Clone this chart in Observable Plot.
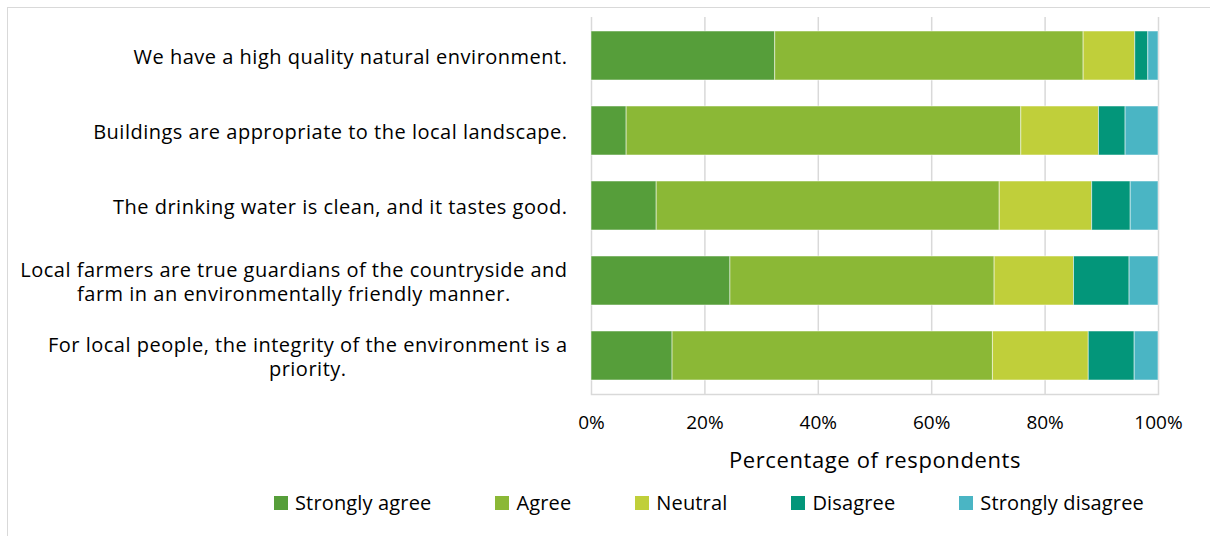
<!DOCTYPE html>
<html>
<head>
<meta charset="utf-8">
<script src="https://cdn.jsdelivr.net/npm/d3@7"></script>
<script src="https://cdn.jsdelivr.net/npm/@observablehq/plot@0.6"></script>
<style>
  html, body { margin: 0; padding: 0; background: #fff; }
  #wrap { position: relative; width: 1210px; height: 536px; overflow: hidden; font-family: "Open Sans", sans-serif; }
  #border { position: absolute; left: 7px; top: 7px; width: 1230px; height: 560px; border: 1.5px solid #d9d9d9; box-sizing: border-box; }
  #chart { position: absolute; left: 0; top: 0; }
  #legend { position: absolute; left: 274px; top: 489px; display: flex; align-items: center; font-size: 20px; letter-spacing: 0.15px; color: #000; }
  .item { display: flex; align-items: center; margin-right: 64px; }
  .item:last-child { margin-right: 0; }
  .sw { width: 14px; height: 14px; margin-right: 7px; }
</style>
</head>
<body>
<div id="wrap">
  <div id="border"></div>
  <div id="chart"></div>
  <div id="legend"></div>
</div>
<script>
const statements = [
  "We have a high quality natural environment.",
  "Buildings are appropriate to the local landscape.",
  "The drinking water is clean, and it tastes good.",
  "Local farmers are true guardians of the countryside and\nfarm in an environmentally friendly manner.",
  "For local people, the integrity of the environment is a\npriority."
];
const categories = ["Strongly agree", "Agree", "Neutral", "Disagree", "Strongly disagree"];
const colors = ["#569E3A", "#8BB836", "#C0CF3A", "#03967A", "#4AB5C4"];
const stronglyAgree    = [32.4,  6.2, 11.5, 24.5, 14.3];
const agree            = [54.4, 69.6, 60.5, 46.6, 56.5];
const neutral          = [ 9.1, 13.7, 16.3, 14.0, 16.9];
const disagree         = [ 2.3,  4.7,  6.8,  9.8,  8.1];
const stronglyDisagree = [ 1.8,  5.8,  4.9,  5.1,  4.2];
const xTicks = [0, 20, 40, 60, 80, 100];
const xLabel = "Percentage of respondents";

const series = [stronglyAgree, agree, neutral, disagree, stronglyDisagree];
const data = [];
statements.forEach((s, i) => {
  categories.forEach((c, j) => data.push({statement: s, category: c, value: series[j][i]}));
});

const FONT = "'Open Sans', sans-serif";
const LABEL_SIZE = 20;
const LABEL_SPACING = 0.5;
const ctx = document.createElement("canvas").getContext("2d");
ctx.font = `${LABEL_SIZE}px 'Open Sans'`;
const widthOf = s => Math.max(...s.split("\n").map(l => ctx.measureText(l).width + LABEL_SPACING * l.length));

const labelMarks = statements.map(s => Plot.text([s], {
  y: d => d,
  text: d => d,
  frameAnchor: "left",
  textAnchor: "middle",
  lineAnchor: "middle",
  lineHeight: 1.22,
  dx: -(24 + widthOf(s) / 2),
  fontSize: LABEL_SIZE,
  fill: "#000"
}));

const chart = Plot.plot({
  width: 1210,
  height: 474,
  marginLeft: 591,
  marginRight: 52,
  marginTop: 17,
  marginBottom: 80,
  style: {fontFamily: FONT, background: "transparent"},
  x: {domain: [0, 100]},
  y: {domain: statements, paddingInner: 0.34, paddingOuter: 0.17, axis: null},
  color: {domain: categories, range: colors},
  marks: [
    Plot.ruleX(xTicks, {x: d => d, stroke: "#d9d9d9", strokeWidth: 1.5}),
    Plot.frame({anchor: "bottom", stroke: "#d9d9d9", strokeWidth: 1.5}),
    Plot.barX(data, {x: "value", y: "statement", fill: "category", stroke: "#fff", strokeOpacity: 0.5, strokeWidth: 1}),
    Plot.axisX({
      ticks: xTicks,
      tickSize: 0,
      tickPadding: 21,
      tickFormat: d => d + "%",
      fontSize: 19,
      fill: "#000",
      label: xLabel,
      labelAnchor: "center",
      labelArrow: "none",
      labelOffset: 73
    })
  ].concat(labelMarks)
});
chart.querySelectorAll("g[aria-label='x-axis label']").forEach(el => {
  el.setAttribute("font-size", 22);
  el.setAttribute("letter-spacing", "0.6");
});
chart.querySelectorAll("g[aria-label='text']").forEach(el => {
  el.setAttribute("letter-spacing", String(LABEL_SPACING));
});
document.getElementById("chart").appendChild(chart);

const legend = document.getElementById("legend");
categories.forEach((c, i) => {
  const it = document.createElement("div");
  it.className = "item";
  const sw = document.createElement("div");
  sw.className = "sw";
  sw.style.background = colors[i];
  const t = document.createElement("span");
  t.textContent = c;
  it.appendChild(sw);
  it.appendChild(t);
  legend.appendChild(it);
});
</script>
</body>
</html>
